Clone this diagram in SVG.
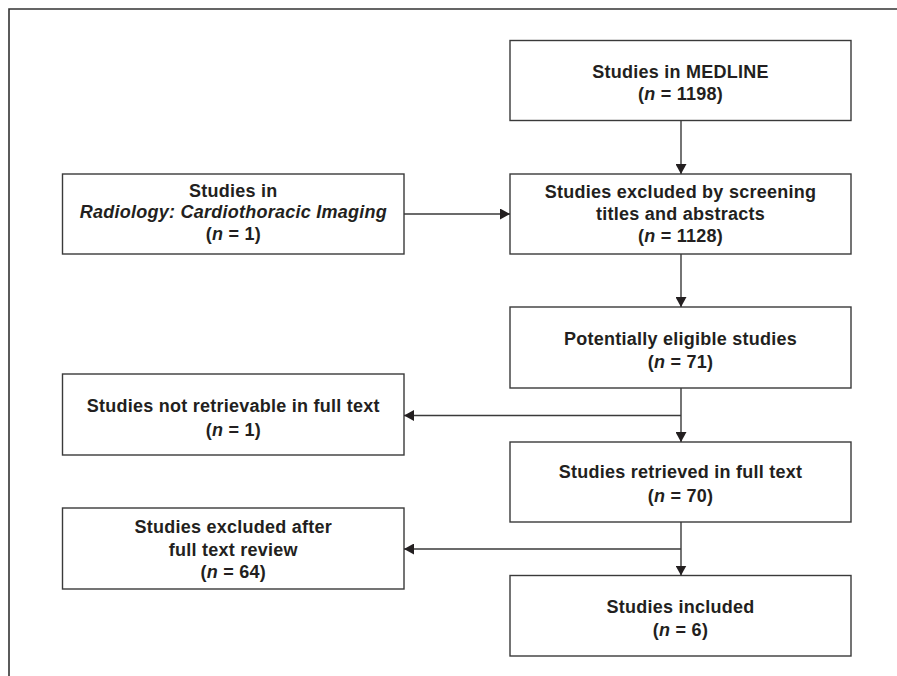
<svg xmlns="http://www.w3.org/2000/svg" width="897" height="676" viewBox="0 0 897 676">
  <style>
    .box { fill: #ffffff; stroke: #3a3a3a; stroke-width: 1.4; }
    .lbl { font-family: "Liberation Sans", Arial, sans-serif; font-size: 18px; font-weight: bold; fill: #231f20; text-anchor: middle; letter-spacing: 0.25px; }
    .it { font-style: italic; }
    .conn { fill: none; stroke: #3a3a3a; stroke-width: 1.4; }
    .frame { fill: none; stroke: #333333; stroke-width: 1.6; }
  </style>
  <defs>
    <marker id="arrow" viewBox="0 0 10 11" refX="10" refY="5.5" markerWidth="10" markerHeight="11" markerUnits="userSpaceOnUse" orient="auto">
      <path d="M0,0 L10,5.5 L0,11 z" fill="#231f20"/>
    </marker>
  </defs>
  <rect width="897" height="676" fill="#ffffff"/>
  <path class="frame" d="M9,676 L9,9 L897,9"/>

  <g id="medline">
    <rect class="box" x="510" y="40.5" width="341" height="80"/>
    <text class="lbl" x="680.5" y="77.5">Studies in MEDLINE</text>
    <text class="lbl" x="680.5" y="100">(<tspan class="it">n</tspan> = 1198)</text>
  </g>

  <g id="radiology">
    <rect class="box" x="62.5" y="174" width="341.5" height="80"/>
    <text class="lbl" x="233.3" y="196.7">Studies in</text>
    <text class="lbl it" x="233.3" y="218.3">Radiology: Cardiothoracic Imaging</text>
    <text class="lbl" x="233.3" y="240">(<tspan class="it">n</tspan> = 1)</text>
  </g>

  <g id="screening">
    <rect class="box" x="510" y="174" width="341" height="80"/>
    <text class="lbl" x="680.5" y="198">Studies excluded by screening</text>
    <text class="lbl" x="680.5" y="220">titles and abstracts</text>
    <text class="lbl" x="680.5" y="241.7">(<tspan class="it">n</tspan> = 1128)</text>
  </g>

  <g id="eligible">
    <rect class="box" x="510" y="307" width="341" height="81"/>
    <text class="lbl" x="680.5" y="344.5">Potentially eligible studies</text>
    <text class="lbl" x="680.5" y="368">(<tspan class="it">n</tspan> = 71)</text>
  </g>

  <g id="not-retrievable">
    <rect class="box" x="62.5" y="374" width="341.5" height="81"/>
    <text class="lbl" x="233.3" y="411.7">Studies not retrievable in full text</text>
    <text class="lbl" x="233.3" y="435.5">(<tspan class="it">n</tspan> = 1)</text>
  </g>

  <g id="retrieved">
    <rect class="box" x="510" y="442" width="341" height="80"/>
    <text class="lbl" x="680.5" y="478.3">Studies retrieved in full text</text>
    <text class="lbl" x="680.5" y="501.7">(<tspan class="it">n</tspan> = 70)</text>
  </g>

  <g id="excluded-fulltext">
    <rect class="box" x="62.5" y="508" width="341.5" height="81"/>
    <text class="lbl" x="233.3" y="533.3">Studies excluded after</text>
    <text class="lbl" x="233.3" y="556">full text review</text>
    <text class="lbl" x="233.3" y="578.3">(<tspan class="it">n</tspan> = 64)</text>
  </g>

  <g id="included">
    <rect class="box" x="510" y="575.5" width="341" height="80.5"/>
    <text class="lbl" x="680.5" y="612.7">Studies included</text>
    <text class="lbl" x="680.5" y="636">(<tspan class="it">n</tspan> = 6)</text>
  </g>

  <g id="connectors">
    <line class="conn" x1="681" y1="120.5" x2="681" y2="174" marker-end="url(#arrow)"/>
    <line class="conn" x1="404" y1="214" x2="510" y2="214" marker-end="url(#arrow)"/>
    <line class="conn" x1="681" y1="254" x2="681" y2="307" marker-end="url(#arrow)"/>
    <line class="conn" x1="681" y1="388" x2="681" y2="442" marker-end="url(#arrow)"/>
    <line class="conn" x1="681" y1="415.5" x2="404" y2="415.5" marker-end="url(#arrow)"/>
    <line class="conn" x1="681" y1="522" x2="681" y2="575.5" marker-end="url(#arrow)"/>
    <line class="conn" x1="681" y1="549" x2="404" y2="549" marker-end="url(#arrow)"/>
  </g>
</svg>
